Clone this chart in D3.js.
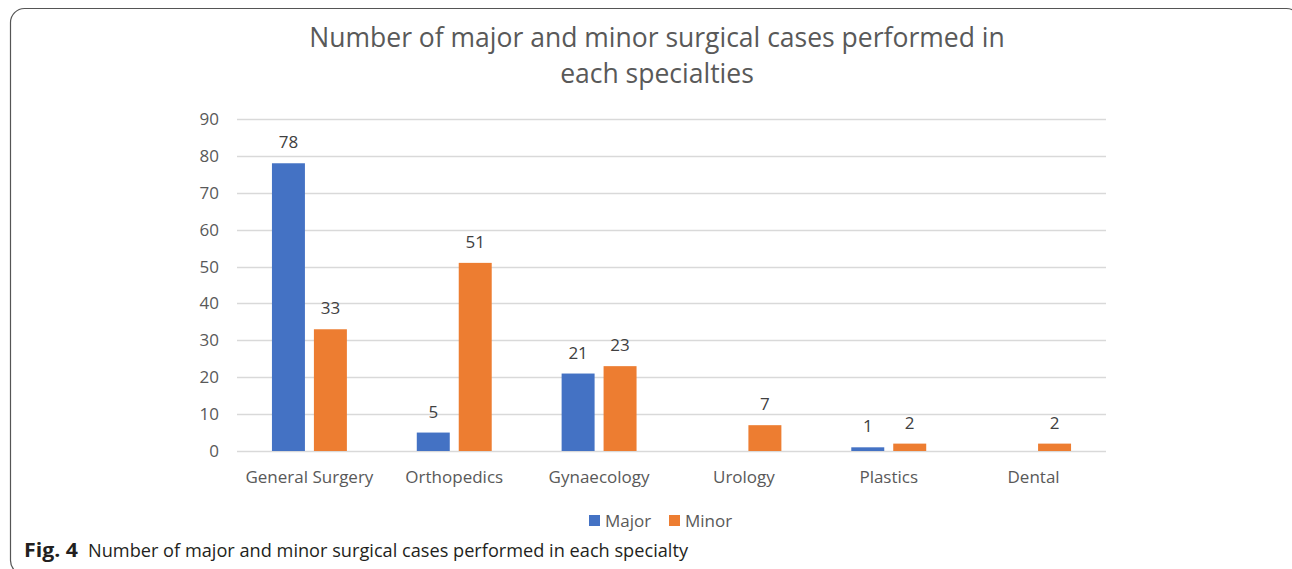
<!DOCTYPE html>
<html>
<head>
<meta charset="utf-8">
<script src="https://cdn.jsdelivr.net/npm/d3@7"></script>
<style>
  html, body { margin: 0; padding: 0; background: #fff; }
  svg { display: block; }
  text { font-family: "Open Sans", "Noto Sans", sans-serif; }
</style>
</head>
<body>
<svg id="chart" width="1292" height="569"></svg>
<script>
const categories = ["General Surgery", "Orthopedics", "Gynaecology", "Urology", "Plastics", "Dental"];
const seriesNames = ["Major", "Minor"];
const majorValues = [78, 5, 21, null, 1, null];
const minorValues = [33, 51, 23, 7, 2, 2];
const yTicks = [0, 10, 20, 30, 40, 50, 60, 70, 80, 90];
const titleLines = ["Number of major and minor surgical cases performed in", "each specialties"];
const captionBold = "Fig. 4";
const captionText = "Number of major and minor surgical cases performed in each specialty";
const colors = { Major: "#4472C4", Minor: "#ED7D31" };

const svg = d3.select("#chart");

// frame (extends past the bottom/right edges of the picture)
svg.append("rect")
  .attr("x", 10.5).attr("y", 8.5)
  .attr("width", 1290).attr("height", 566)
  .attr("rx", 14).attr("ry", 14)
  .attr("fill", "none").attr("stroke", "#555").attr("stroke-width", 1.2);

const plot = { left: 237, right: 1106, top: 119, bottom: 451 };

const x0 = d3.scaleBand().domain(categories).range([plot.left, plot.right]).paddingInner(0).paddingOuter(0);
const x1 = d3.scaleBand().domain(seriesNames).range([0, x0.bandwidth()]).paddingInner(0.214).paddingOuter(0.833);
const y = d3.scaleLinear().domain([0, 90]).range([plot.bottom, plot.top]);

// gridlines
svg.append("g").selectAll("line").data(yTicks).join("line")
  .attr("x1", plot.left).attr("x2", plot.right)
  .attr("y1", d => Math.round(y(d)) + 0.5).attr("y2", d => Math.round(y(d)) + 0.5)
  .attr("stroke", "#D9D9D9").attr("stroke-width", 1.3);

// y tick labels
svg.append("g").selectAll("text").data(yTicks).join("text")
  .attr("x", 219).attr("y", d => y(d))
  .attr("dy", "0.35em")
  .attr("text-anchor", "end")
  .attr("font-size", 17).attr("fill", "#595959")
  .text(d => d);

// x category labels
svg.append("g").selectAll("text").data(categories).join("text")
  .attr("x", d => x0(d) + x0.bandwidth() / 2).attr("y", 477)
  .attr("dy", "0.35em")
  .attr("text-anchor", "middle")
  .attr("font-size", 17).attr("fill", "#595959")
  .text(d => d);

const rows = [];
categories.forEach((c, i) => {
  rows.push({ cat: c, series: "Major", value: majorValues[i] });
  rows.push({ cat: c, series: "Minor", value: minorValues[i] });
});
const present = rows.filter(d => d.value != null);

svg.append("g").selectAll("rect").data(present).join("rect")
  .attr("x", d => x0(d.cat) + x1(d.series))
  .attr("width", x1.bandwidth())
  .attr("y", d => y(d.value))
  .attr("height", d => y(0) - y(d.value))
  .attr("fill", d => colors[d.series]);

svg.append("g").selectAll("text").data(present).join("text")
  .attr("x", d => x0(d.cat) + x1(d.series) + x1.bandwidth() / 2)
  .attr("y", d => y(d.value) - 15)
  .attr("text-anchor", "middle")
  .attr("font-size", 17).attr("fill", "#404040")
  .text(d => d.value);

// title
svg.append("g").selectAll("text").data(titleLines).join("text")
  .attr("x", 657).attr("y", (d, i) => 47 + i * 36)
  .attr("text-anchor", "middle")
  .attr("font-size", 26.5).attr("fill", "#595959")
  .text(d => d);

// legend
const legend = svg.append("g");
const legendItems = [{ name: "Major", x: 589 }, { name: "Minor", x: 669 }];
legendItems.forEach(it => {
  legend.append("rect").attr("x", it.x).attr("y", 515).attr("width", 11).attr("height", 11).attr("fill", colors[it.name]);
  legend.append("text").attr("x", it.x + 16).attr("y", 521).attr("dy", "0.35em")
    .attr("font-size", 17).attr("fill", "#595959").text(it.name);
});

// caption
svg.append("text").attr("x", 24).attr("y", 557).attr("font-size", 19).attr("fill", "#231f20")
  .attr("font-weight", "bold")
  .attr("textLength", 54).attr("lengthAdjust", "spacingAndGlyphs")
  .text(captionBold);
svg.append("text").attr("x", 88).attr("y", 557).attr("font-size", 19).attr("fill", "#231f20")
  .attr("textLength", 600).attr("lengthAdjust", "spacingAndGlyphs")
  .text(captionText);
</script>
</body>
</html>
